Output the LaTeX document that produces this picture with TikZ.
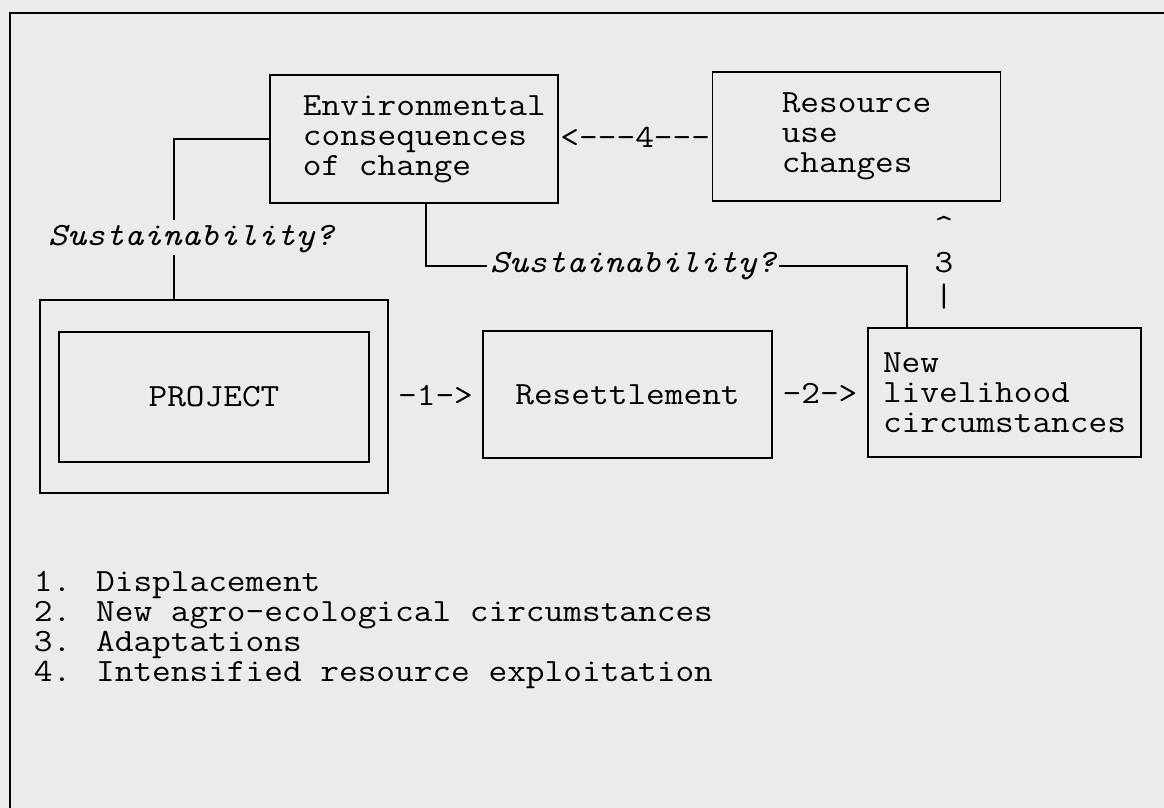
\documentclass[tikz,border=0pt]{standalone}
\usepackage{fontspec}
\setmainfont{Latin Modern Mono}[FakeStretch=1.12]
\usepackage{tikz}

\begin{document}
\begin{tikzpicture}[x=0.5pt,y=-0.5pt,line width=0.9pt,
  every node/.style={font=\fontsize{16.2}{15}\selectfont},
  box/.style={draw,line width=0.9pt,inner sep=0pt,align=left},
  lbl/.style={inner sep=1pt}]
  \useasboundingbox (0,0) rectangle (1164,808);
  \fill[black!8]
    (0,0)
    rectangle
    (1164,808);
  \draw
    (1164,13)
    --
    (10,13)
    --
    (10,808);
  \node[box,minimum width=144pt,minimum height=64pt] (env) at (414,139) {};
  \node[lbl,anchor=west,align=left] (envtxt) at (300,139)
    {Environmental\\consequences\\of change};
  \node[box,minimum width=144pt,minimum height=64.5pt] (res) at (856.5,136.5)
    {Resource\\use\\changes};
  \node[box,minimum width=174pt,minimum height=96.5pt] (projout) at (214,396.5) {};
  \node[box,minimum width=155pt,minimum height=65pt] (proj) at (214,397) {PROJECT};
  \node[box,minimum width=144.5pt,minimum height=63.5pt] (resettle) at (627.5,394.5)
    {Resettlement};
  \node[box,minimum width=136.5pt,minimum height=64.5pt] (newlh) at (1004.5,392.5)
    {New\\livelihood\\circumstances};
  \path
    (env.east)
    --
    (res.west) node[midway,lbl] (arr4) {<{-}{-}{-}4{-}{-}{-}};
  \path
    (projout.east)
    --
    (resettle.west) node[midway,lbl] (arr1) {{-}1{-}>};
  \path
    (resettle.east)
    --
    (newlh.west) node[midway,lbl] (arr2) {{-}2{-}>};
  \node[lbl] (up3a) at (944,226) {\textasciicircum};
  \node[lbl] (up3) at (944,263) {3};
  \node[lbl] (up3b) at (944,297) {|};
  \coordinate (c1a) at (174,220);
  \coordinate (c1b) at (174,255);
  \node[lbl] (sust1) at (191,239) {\itshape Sustainability?};
  \draw
    (env.west)
    -|
    (c1a);
  \draw
    (c1b)
    --
    (c1b |- projout.north);
  \coordinate (c2a) at (426,266);
  \coordinate (c2b) at (907,266);
  \node[lbl] (sust2) at (633,266) {\itshape Sustainability?};
  \draw
    (c2a |- env.south)
    --
    (c2a)
    --
    (sust2.west);
  \draw
    (sust2.east)
    --
    (c2b)
    --
    (c2b |- newlh.north);
  \node[lbl,anchor=west,align=left] (legend) at (31,630)
    {1. Displacement\\2. New agro-ecological circumstances\\3. Adaptations\\4. Intensified resource exploitation};
\end{tikzpicture}
\end{document}
